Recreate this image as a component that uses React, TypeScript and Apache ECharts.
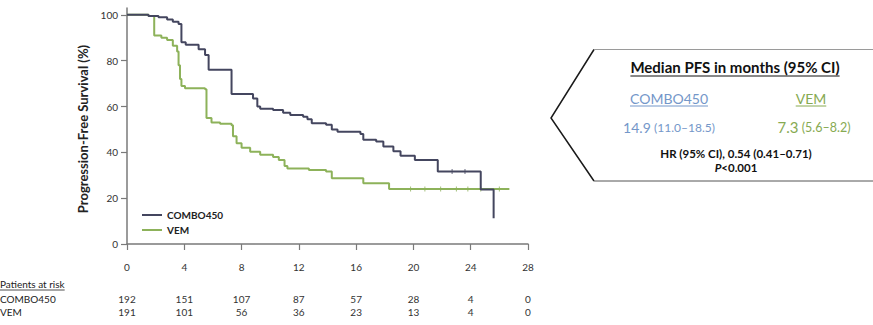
import React, { useEffect, useRef } from "react";
import * as echarts from "echarts";

const months = [0, 4, 8, 12, 16, 20, 24, 28];
const yTicks = [0, 20, 40, 60, 80, 100];
const atRiskCombo = [192, 151, 107, 87, 57, 28, 4, 0];
const atRiskVem = [191, 101, 56, 36, 23, 13, 4, 0];

const comboCurve: [number, number][] = [
  [0, 100], [1.5, 99.5], [2.2, 99], [2.8, 98], [3.2, 97], [3.6, 96], [3.8, 88],
  [4.1, 87], [5.0, 85], [5.45, 82.5], [5.7, 76], [7.3, 65.5], [8.8, 63.5],
  [9.1, 60], [9.3, 59], [10.2, 58.5], [10.9, 57.3], [11.4, 56.3], [12.3, 55.5],
  [12.6, 54.5], [12.9, 52.7], [13.9, 52], [14.3, 50], [14.7, 49], [16.3, 48],
  [16.5, 45.5], [17.4, 44.7], [17.9, 42.5], [18.6, 40.5], [19.1, 38.5],
  [20.1, 36.7], [21.7, 31.6], [24.7, 23.8], [25.6, 11.2],
];

const vemCurve: [number, number][] = [
  [0, 100], [1.5, 99.5], [1.9, 91], [2.4, 90], [2.8, 89], [3.2, 86.5],
  [3.5, 84], [3.6, 78], [3.7, 72], [3.8, 69], [4.05, 68], [5.45, 67.5],
  [5.55, 55], [5.9, 53], [6.5, 52.5], [7.3, 51.8], [7.4, 47], [7.65, 44],
  [8.0, 42], [8.6, 40.3], [9.3, 38.9], [10.2, 38], [10.6, 36.7], [11.0, 34],
  [11.2, 33], [12.7, 32.3], [13.9, 31.6], [14.3, 28.7], [16.5, 26.5],
  [18.3, 24], [26.7, 24],
];

const comboCensor: [number, number][] = [[22.7, 31.6], [23.6, 31.6]];
const vemCensor: [number, number][] = [
  [19.8, 24], [20.8, 24], [21.9, 24], [23.0, 24], [23.8, 24], [24.7, 24], [26.0, 24],
];

const COMBO_COLOR = "#44465f";
const VEM_COLOR = "#8db25a";
const BLUE = "#7497c9";
const GREEN = "#87aa52";
const FONT = "Lato, 'Open Sans', sans-serif";

function measure(text: string, font: string): number {
  const c = document.createElement("canvas").getContext("2d");
  if (!c) return text.length * 6;
  c.font = font;
  return c.measureText(text).width;
}

export default function App() {
  const ref = useRef<HTMLDivElement>(null);
  useEffect(() => {
    if (!ref.current) return;
    const chart = echarts.init(ref.current, null, { renderer: "svg" });

    const titleText = "Median PFS in months (95% CI)";
    const titleFont = `bold 15px Lato`;
    const titleW = measure(titleText, titleFont);
    const comboW = measure("COMBO450", "14px Lato");
    const vemW = measure("VEM", "14px Lato");
    const parW = measure("Patients at risk", "10px Lato");

    const cx = 735;
    const comboX = 669;
    const vemX = 811;

    const underline = (x: number, y: number, w: number, color: string) => ({
      type: "line",
      shape: { x1: x - w / 2, y1: y, x2: x + w / 2, y2: y },
      style: { stroke: color, lineWidth: 1 },
      silent: true,
    });

    chart.setOption({
      animation: false,
      grid: { left: 127, right: 345, top: 8, bottom: 81, outerBoundsMode: "none" },
      legend: {
        data: ["COMBO450", "VEM"],
        orient: "vertical",
        left: 137,
        top: 205,
        icon: "rect",
        itemWidth: 20,
        itemHeight: 2,
        itemGap: 5,
        textStyle: { fontSize: 10, fontWeight: "bold", color: "#222", fontFamily: FONT },
      },
      xAxis: [
        {
          type: "value",
          min: 0,
          max: 28,
          interval: 4,
          axisLine: { lineStyle: { color: "#7a7a7a", width: 1.5 } },
          axisTick: { length: 6, lineStyle: { color: "#7a7a7a", width: 1.2 } },
          axisLabel: { fontSize: 10, color: "#333", margin: 18, fontFamily: FONT },
          splitLine: { show: false },
        },
        {
          type: "value",
          min: 0,
          max: 28,
          interval: 4,
          position: "bottom",
          axisLine: { show: false },
          axisTick: { show: false },
          splitLine: { show: false },
          axisLabel: {
            fontSize: 10,
            color: "#333",
            margin: 50,
            fontFamily: FONT,
            formatter: (v: number) => {
              const i = months.indexOf(v);
              return i >= 0 ? String(atRiskCombo[i]) : "";
            },
          },
        },
        {
          type: "value",
          min: 0,
          max: 28,
          interval: 4,
          position: "bottom",
          axisLine: { show: false },
          axisTick: { show: false },
          splitLine: { show: false },
          axisLabel: {
            fontSize: 10,
            color: "#333",
            margin: 63,
            fontFamily: FONT,
            formatter: (v: number) => {
              const i = months.indexOf(v);
              return i >= 0 ? String(atRiskVem[i]) : "";
            },
          },
        },
      ],
      yAxis: {
        type: "value",
        min: 0,
        max: 103,
        axisLine: { show: true, lineStyle: { color: "#7a7a7a", width: 1.5 } },
        axisTick: { show: true, length: 6, customValues: yTicks, lineStyle: { color: "#7a7a7a", width: 1.2 } },
        axisLabel: { fontSize: 10, color: "#333", margin: 9, customValues: yTicks, fontFamily: FONT },
        splitLine: { show: false },
      },
      series: [
        {
          name: "COMBO450",
          type: "line",
          step: "end",
          data: comboCurve,
          showSymbol: false,
          symbol: "none",
          lineStyle: { color: COMBO_COLOR, width: 2 },
          itemStyle: { color: COMBO_COLOR },
          z: 3,
        },
        {
          name: "VEM",
          type: "line",
          step: "end",
          data: vemCurve,
          showSymbol: false,
          symbol: "none",
          lineStyle: { color: VEM_COLOR, width: 2 },
          itemStyle: { color: VEM_COLOR },
          z: 2,
        },
        {
          name: "comboCensor",
          type: "scatter",
          data: comboCensor,
          symbol: "rect",
          symbolSize: [1, 5],
          itemStyle: { color: COMBO_COLOR },
        },
        {
          name: "vemCensor",
          type: "scatter",
          data: vemCensor,
          symbol: "rect",
          symbolSize: [1, 5],
          itemStyle: { color: VEM_COLOR },
        },
      ],
      graphic: [
        {
          type: "text",
          x: 83,
          y: 129,
          rotation: Math.PI / 2,
          style: {
            text: "Progression-Free Survival (%)",
            font: `bold 13px ${FONT}`,
            fill: "#222",
            align: "center",
            verticalAlign: "middle",
          },
        },
        {
          type: "text",
          x: 0,
          y: 284,
          style: { text: "Patients at risk", font: `10px ${FONT}`, fill: "#222", verticalAlign: "middle" },
        },
        { type: "line", shape: { x1: 0, y1: 290, x2: parW, y2: 290 }, style: { stroke: "#222", lineWidth: 0.8 } },
        {
          type: "text",
          x: 0,
          y: 299,
          style: { text: "COMBO450", font: `10px ${FONT}`, fill: "#222", verticalAlign: "middle" },
        },
        {
          type: "text",
          x: 0,
          y: 312,
          style: { text: "VEM", font: `10px ${FONT}`, fill: "#222", verticalAlign: "middle" },
        },
        {
          type: "polyline",
          shape: { points: [[594, 49.5], [551, 118], [594, 181]] },
          style: { stroke: "#1a1a1a", lineWidth: 1.5, fill: "none" },
        },
        { type: "line", shape: { x1: 594, y1: 49.5, x2: 873, y2: 49.5 }, style: { stroke: "#9a9a9a", lineWidth: 1 } },
        { type: "line", shape: { x1: 594, y1: 181, x2: 873, y2: 181 }, style: { stroke: "#555", lineWidth: 1 } },
        {
          type: "text",
          x: cx,
          y: 67,
          style: { text: titleText, font: titleFont, fill: "#111", align: "center", verticalAlign: "middle" },
        },
        underline(cx, 76, titleW, "#111"),
        {
          type: "text",
          x: comboX,
          y: 98,
          style: { text: "COMBO450", font: `14px ${FONT}`, fill: BLUE, align: "center", verticalAlign: "middle" },
        },
        underline(comboX, 106, comboW, BLUE),
        {
          type: "text",
          x: vemX,
          y: 98,
          style: { text: "VEM", font: `14px ${FONT}`, fill: GREEN, align: "center", verticalAlign: "middle" },
        },
        underline(vemX, 106, vemW, GREEN),
        {
          type: "text",
          x: comboX,
          y: 127,
          style: {
            text: "{a|14.9} {b|(11.0–18.5)}",
            align: "center",
            verticalAlign: "middle",
            rich: {
              a: { fontSize: 14, fontFamily: FONT, fill: BLUE },
              b: { fontSize: 12, fontFamily: FONT, fill: BLUE },
            },
          },
        },
        {
          type: "text",
          x: 814,
          y: 127,
          style: {
            text: "{a|7.3} {b|(5.6–8.2)}",
            align: "center",
            verticalAlign: "middle",
            rich: {
              a: { fontSize: 15, fontFamily: FONT, fill: GREEN },
              b: { fontSize: 12.5, fontFamily: FONT, fill: GREEN },
            },
          },
        },
        {
          type: "text",
          x: 736,
          y: 153,
          style: {
            text: "HR (95% CI), 0.54 (0.41–0.71)",
            font: `bold 11.5px ${FONT}`,
            fill: "#111",
            align: "center",
            verticalAlign: "middle",
          },
        },
        {
          type: "text",
          x: 736,
          y: 167,
          style: {
            text: "{i|P}{n|<0.001}",
            align: "center",
            verticalAlign: "middle",
            rich: {
              i: { fontSize: 11.5, fontFamily: FONT, fontStyle: "italic", fontWeight: "bold", fill: "#111" },
              n: { fontSize: 11.5, fontFamily: FONT, fontWeight: "bold", fill: "#111" },
            },
          },
        },
      ],
    });
    return () => chart.dispose();
  }, []);
  return (
    <div
      ref={ref}
      style={{ position: "fixed", left: 0, top: 0, width: 873, height: 325, background: "#fff" }}
    />
  );
}
